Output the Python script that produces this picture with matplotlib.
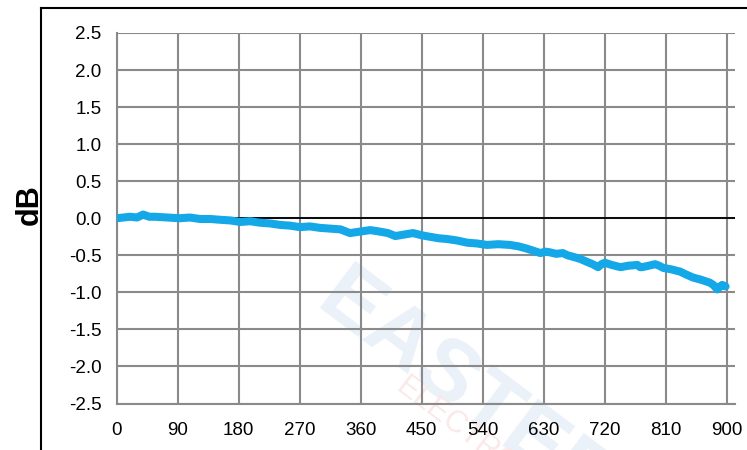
import matplotlib
matplotlib.use("Agg")
import matplotlib.pyplot as plt
from matplotlib.lines import Line2D

plt.rcParams['font.family'] = ['Liberation Sans', 'DejaVu Sans']

# angle (deg) vs level (dB)
angle = [0, 10, 20, 30, 39, 48, 57, 75, 93, 108, 123, 138, 152, 168, 182, 197,
         211, 226, 241, 256, 270, 285, 300, 315, 330, 344, 359, 374, 388, 400,
         411, 424, 437, 450, 462, 475, 487, 502, 517, 531, 546, 563, 580, 593,
         605, 615, 625, 632, 639, 648, 658, 665, 673, 684, 694, 702, 710, 715,
         720, 730, 743, 755, 768, 772, 775, 785, 794, 800, 806, 818, 831, 840,
         850, 862, 875, 880, 886, 890, 893, 898]
level = [0.00, 0.01, 0.02, 0.01, 0.05, 0.02, 0.02, 0.01, 0.00, 0.01, -0.01,
         -0.01, -0.02, -0.03, -0.05, -0.04, -0.06, -0.07, -0.09, -0.10, -0.12,
         -0.11, -0.13, -0.14, -0.15, -0.20, -0.18, -0.16, -0.18, -0.20, -0.24,
         -0.22, -0.20, -0.23, -0.25, -0.27, -0.28, -0.30, -0.33, -0.34, -0.36,
         -0.35, -0.36, -0.38, -0.41, -0.44, -0.47, -0.45, -0.46, -0.48, -0.47,
         -0.50, -0.52, -0.55, -0.59, -0.62, -0.66, -0.62, -0.60, -0.63, -0.66,
         -0.64, -0.63, -0.66, -0.66, -0.64, -0.62, -0.64, -0.67, -0.69, -0.72,
         -0.76, -0.80, -0.83, -0.87, -0.90, -0.96, -0.92, -0.90, -0.92]

xticks = [0, 90, 180, 270, 360, 450, 540, 630, 720, 810, 900]
yticks = [2.5, 2.0, 1.5, 1.0, 0.5, 0.0, -0.5, -1.0, -1.5, -2.0, -2.5]

fig = plt.figure(figsize=(7.47, 4.5), dpi=100)
ax = fig.add_axes([0.1562, 0.1033, 0.984 - 0.1562, 0.9267 - 0.1033])

# faint watermark behind the grid
ax.text(350 / 747, 1 - 258 / 450, "EASTERN", transform=fig.transFigure,
        rotation=-37, rotation_mode='anchor', ha='left', va='top',
        fontsize=62, fontweight='bold', color='#ebf1f8', zorder=0.5,
        clip_on=False)
ax.text(408 / 747, 1 - 372 / 450, "ELECTRONIC", transform=fig.transFigure,
        rotation=-37, rotation_mode='anchor', ha='left', va='top',
        fontsize=22, color='#fbe9e9', zorder=0.5, clip_on=False)

ax.set_xlim(0, 912)
ax.set_ylim(-2.5, 2.5)
ax.set_xticks(xticks)
ax.set_yticks(yticks)
ax.set_yticklabels([f"{v:.1f}" for v in yticks])
ax.grid(True, color='#8a8a8a', linewidth=1.5, zorder=1)
ax.set_axisbelow(True)
ax.tick_params(length=0, labelsize=13.5)
ax.tick_params(axis='y', pad=11)
ax.tick_params(axis='x', pad=13)
for s in ['top', 'right']:
    ax.spines[s].set_visible(False)
for s in ['left', 'bottom']:
    ax.spines[s].set_color('#8a8a8a')
    ax.spines[s].set_linewidth(1.5)

ax.axhline(0, color='black', linewidth=1.3, zorder=2)
ax.plot(angle, level, color='#14a8e8', linewidth=5.8, solid_joinstyle='round',
        solid_capstyle='round', zorder=3)

fig.text(0.040, 0.545, "dB", rotation=90, fontsize=22, fontweight='bold',
         ha='center', va='center')

# outer frame
fig.add_artist(Line2D([0.0549, 0.0549], [0, 0.982], color='black', linewidth=1.5,
                      transform=fig.transFigure))
fig.add_artist(Line2D([0.0549, 1], [0.982, 0.982], color='black', linewidth=1.5,
                      transform=fig.transFigure))

fig.savefig("out.png", dpi=100)
plt.close()
